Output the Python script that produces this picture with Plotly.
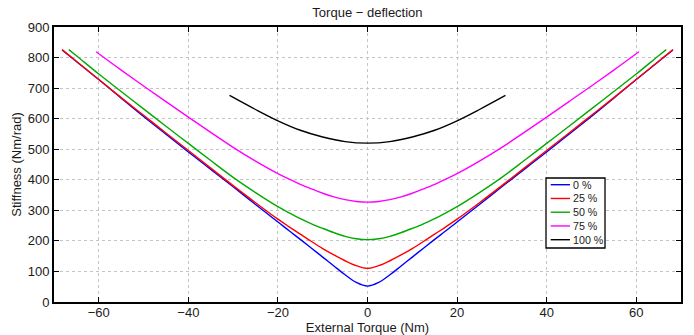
import plotly.graph_objects as go

# Stiffness vs. external torque for five preload levels
torque_0 = [-68.2, -65, -60, -55, -50, -45, -40, -35, -30, -25, -20, -17.5,
            -15, -12.5, -10, -7.5, -5, -2.5, 0, 2.5, 5, 7.5, 10, 12.5, 15,
            17.5, 20, 25, 30, 35, 40, 45, 50, 55, 60, 65, 68.2]
stiff_0 = [825, 787, 728, 667, 607, 549, 491, 434, 377, 319, 262, 233,
           205, 176, 147, 118, 89, 64, 52, 64, 89, 118, 147, 176, 205,
           233, 262, 319, 377, 434, 491, 549, 607, 667, 728, 787, 825]

torque_25 = [-68.2, -65, -60, -55, -50, -45, -40, -35, -30, -25, -20, -17.5,
             -15, -12.5, -10, -7.5, -5, -2.5, 0, 2.5, 5, 7.5, 10, 12.5, 15,
             17.5, 20, 25, 30, 35, 40, 45, 50, 55, 60, 65, 68.2]
stiff_25 = [826, 788, 728, 669, 611, 553, 496, 438, 381, 325, 271, 246,
            222, 198, 175, 154, 135, 119, 110, 119, 135, 154, 175, 198, 222,
            246, 271, 325, 381, 438, 496, 553, 611, 669, 728, 788, 826]

torque_50 = [-66.7, -65, -60, -55, -50, -45, -40, -35, -30, -25, -20, -17.5,
             -15, -12.5, -10, -7.5, -5, -2.5, 0, 2.5, 5, 7.5, 10, 12.5, 15,
             17.5, 20, 25, 30, 35, 40, 45, 50, 55, 60, 65, 66.7]
stiff_50 = [826, 806, 746, 689, 632, 575, 519, 463, 408, 358, 312, 292,
            273, 256, 241, 227, 215, 207, 204, 207, 215, 227, 241, 256, 273,
            292, 312, 358, 408, 463, 519, 575, 632, 689, 746, 806, 826]

torque_75 = [-60.6, -55, -50, -45, -40, -35, -30, -25, -20, -17.5, -15,
             -12.5, -10, -7.5, -5, -2.5, 0, 2.5, 5, 7.5, 10, 12.5, 15, 17.5,
             20, 25, 30, 35, 40, 45, 50, 55, 60.6]
stiff_75 = [819, 759, 707, 656, 605, 555, 506, 461, 420, 402, 385,
            370, 356, 344, 335, 329, 327, 329, 335, 344, 356, 370, 385, 402,
            420, 461, 506, 555, 605, 656, 707, 759, 819]

torque_100 = [-30.8, -25, -20, -15, -10, -5, 0, 5, 10, 15, 20, 25, 30.8]
stiff_100 = [676, 630, 593, 562, 540, 525, 520, 525, 540, 562, 593, 630, 676]

series_names = ["0 %", "25 %", "50 %", "75 %", "100 %"]
series_torque = [torque_0, torque_25, torque_50, torque_75, torque_100]
series_stiff = [stiff_0, stiff_25, stiff_50, stiff_75, stiff_100]
series_colors = ["#0000ff", "#ff0000", "#00aa00", "#ff00ff", "#000000"]

x_ticks = [-60, -40, -20, 0, 20, 40, 60]
y_ticks = [0, 100, 200, 300, 400, 500, 600, 700, 800, 900]

FONT = "Liberation Sans, Arial, Helvetica, sans-serif"
TEXT = "#1a1a1a"

fig = go.Figure()
for name, tx, sy, color in zip(series_names, series_torque, series_stiff,
                               series_colors):
    fig.add_trace(go.Scatter(
        x=tx, y=sy, name=name, mode="lines", showlegend=False,
        line=dict(color=color, width=1.4, shape="spline", smoothing=1.0),
    ))

axis_common = dict(
    showline=True, linecolor="black", linewidth=2, mirror="ticks",
    ticks="inside", ticklen=5, tickwidth=1.2, tickcolor="black",
    showgrid=True, gridcolor="#c4c4c4", griddash="dot", gridwidth=1,
    zeroline=False, automargin=False,
    tickfont=dict(family=FONT, size=13, color=TEXT),
)

# Boxed key in the lower right of the axes (paper coordinates)
box_x0, box_x1 = 0.7847, 0.8788
box_y1, box_y0 = 0.4509, 0.1964
row_top, row_step = 0.4265, 0.0500
line_x0, line_x1, label_x = 0.7922, 0.8230, 0.8250

shapes = [dict(type="rect", xref="paper", yref="paper",
               x0=box_x0, x1=box_x1, y0=box_y0, y1=box_y1,
               line=dict(color="black", width=1.3), fillcolor="white",
               layer="above")]
annotations = []
for i, (name, color) in enumerate(zip(series_names, series_colors)):
    yy = row_top - i * row_step
    shapes.append(dict(type="line", xref="paper", yref="paper",
                       x0=line_x0, x1=line_x1, y0=yy, y1=yy,
                       line=dict(color=color, width=1.4), layer="above"))
    annotations.append(dict(xref="paper", yref="paper", x=label_x, y=yy,
                            text=name, showarrow=False, xanchor="left",
                            yanchor="middle",
                            font=dict(family=FONT, size=10.7, color=TEXT)))

fig.update_layout(
    width=694, height=335,
    margin=dict(l=54, r=13, t=27, b=33),
    paper_bgcolor="white", plot_bgcolor="white",
    font=dict(family=FONT, size=13, color=TEXT),
    title=dict(text="Torque − deflection", x=0.5295, xanchor="center",
               y=0.962, yanchor="middle",
               font=dict(family=FONT, size=13, color=TEXT)),
    xaxis=dict(range=[-70, 70], tickvals=x_ticks, ticklabelstandoff=-3,
               title=dict(text="External Torque (Nm)", standoff=2,
                          font=dict(family=FONT, size=13, color=TEXT)),
               **axis_common),
    yaxis=dict(range=[0, 900], tickvals=y_ticks,
               title=dict(text="Stiffness (Nm/rad)", standoff=3,
                          font=dict(family=FONT, size=13, color=TEXT)),
               **axis_common),
    shapes=shapes,
    annotations=annotations,
    showlegend=False,
)

fig.write_html("out.html")
